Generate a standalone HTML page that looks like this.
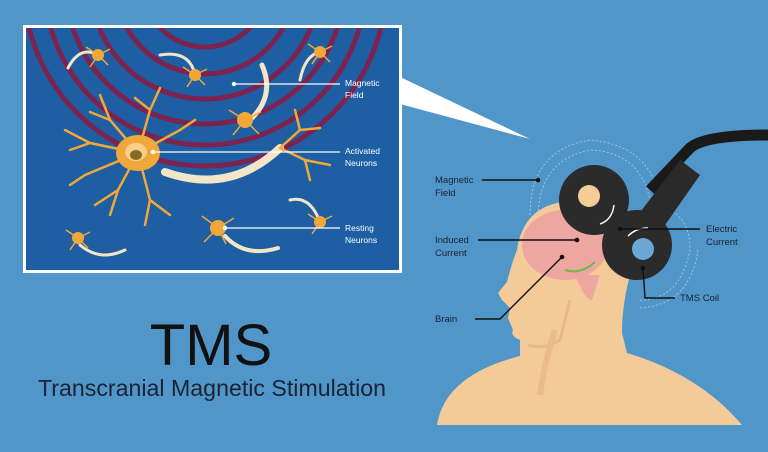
<!DOCTYPE html>
<html><head><meta charset="utf-8"><style>
html,body{margin:0;padding:0;background:#5196c9;}
svg{display:block;font-family:"Liberation Sans",sans-serif;}
</style></head><body>
<svg width="768" height="452" viewBox="0 0 768 452" xmlns="http://www.w3.org/2000/svg">
<rect width="768" height="452" fill="#5196c9"/>
<polygon points="398,76 530,139 400,104" fill="#ffffff"/>
<rect x="23" y="25" width="379" height="248" fill="#ffffff"/>
<rect x="26" y="28" width="373" height="242" fill="#1e5ea3"/>
<defs><clipPath id="ic"><rect x="26" y="28" width="373" height="242"/></clipPath></defs>
<g clip-path="url(#ic)">
<g fill="none" stroke="#7d2350" stroke-width="5">
<circle cx="205" cy="-15" r="62"/><circle cx="205" cy="-15" r="89"/><circle cx="205" cy="-15" r="114"/>
<circle cx="205" cy="-15" r="139"/><circle cx="205" cy="-15" r="160"/><circle cx="205" cy="-15" r="181"/>
</g>
<g fill="none" stroke="#f3e6c8" stroke-linecap="round">
<path d="M165,172 Q230,195 280,148" stroke-width="8"/>
<path d="M68,68 Q80,45 98,55" stroke-width="3"/>
<path d="M160,55 Q190,50 195,75" stroke-width="3"/>
<path d="M262,65 Q275,95 252,118" stroke-width="5"/>
<path d="M300,80 Q305,55 320,52" stroke-width="3"/>
<path d="M290,200 Q310,195 320,222" stroke-width="3"/>
<path d="M80,245 Q100,262 125,250" stroke-width="3"/>
<path d="M225,236 Q245,258 278,248" stroke-width="4"/>
</g>
<g stroke="#f0a83a" stroke-width="2.5" fill="none" stroke-linecap="round">
<path d="M138,153 L90,143 L65,130 M90,143 L70,150 M138,153 L110,120 L100,95 M110,120 L90,112 M138,153 L150,110 L160,88 M150,110 L135,98 M138,153 L180,130 L195,120 M138,153 L118,190 L95,205 M118,190 L110,215 M138,153 L150,200 L145,225 M150,200 L170,215 M138,153 L85,175 L70,185"/>
<path d="M280,148 L300,130 L295,110 M300,130 L320,128 M280,148 L305,160 L330,165 M305,160 L310,180"/>
</g>
<ellipse cx="138" cy="153" rx="22" ry="18" fill="#f0a83a"/>
<ellipse cx="136" cy="152" rx="11" ry="9" fill="#f6d088"/>
<ellipse cx="136" cy="155" rx="6" ry="5" fill="#8a6a20"/>
<g fill="#f0a83a">
<circle cx="98" cy="55" r="6"/><circle cx="195" cy="75" r="6"/><circle cx="245" cy="120" r="8"/>
<circle cx="320" cy="52" r="6"/><circle cx="218" cy="228" r="8"/><circle cx="320" cy="222" r="6"/><circle cx="78" cy="238" r="6"/>
</g>
<g stroke="#f0a83a" stroke-width="1.5" fill="none">
<path d="M98,55 l-12,-8 M98,55 l12,-6 M98,55 l-8,12 M98,55 l10,10"/>
<path d="M195,75 l-12,-8 M195,75 l12,-6 M195,75 l-8,12 M195,75 l10,10"/>
<path d="M245,120 l-16,-10 M245,120 l16,-8 M245,120 l-12,15 M245,120 l14,14"/>
<path d="M320,52 l-12,-8 M320,52 l12,-6 M320,52 l-8,12 M320,52 l10,10"/>
<path d="M218,228 l-16,-12 M218,228 l16,-10 M218,228 l-14,14 M218,228 l8,16"/>
<path d="M320,222 l-12,-8 M320,222 l12,-6 M320,222 l-8,12"/>
<path d="M78,238 l-12,-8 M78,238 l12,-6 M78,238 l-8,12 M78,238 l10,10"/>
</g>
<g stroke="#ffffff" stroke-width="1.3"><line x1="234" y1="84" x2="340" y2="84"/><line x1="153" y1="152" x2="340" y2="152"/><line x1="225" y1="228" x2="340" y2="228"/></g>
<g fill="#fff"><circle cx="234" cy="84" r="2.2"/><circle cx="153" cy="152" r="2.2"/><circle cx="225" cy="228" r="2.2"/></g>
</g>
<g fill="#ffffff" font-size="8.5">
<text x="345" y="86">Magnetic</text><text x="345" y="98">Field</text>
<text x="345" y="154">Activated</text><text x="345" y="166">Neurons</text>
<text x="345" y="231">Resting</text><text x="345" y="243">Neurons</text>
</g>
<text x="211" y="365" font-size="58" text-anchor="middle" fill="#111">TMS</text>
<text x="38" y="396" font-size="23" fill="#1a2233" textLength="348" lengthAdjust="spacingAndGlyphs">Transcranial Magnetic Stimulation</text>
<!-- head -->
<path d="M437,425 Q445,375 520,356 L520,340 Q510,336 513,330 L508,318 L510,308 L502,300 L498,293 L507,282 Q512,262 517,250 Q522,215 550,205 Q590,192 620,215 Q640,240 630,275 Q622,305 622,333 L627,353 Q700,375 742,425 Z" fill="#f4ca98"/>
<path d="M528,345 Q545,350 560,340 L570,300" fill="none" stroke="#eab98a" stroke-width="3"/>
<path d="M540,395 Q545,360 555,330" fill="none" stroke="#ebbb8c" stroke-width="6"/>
<ellipse cx="565" cy="245" rx="43" ry="35" fill="#eda6a0"/>
<path d="M575,275 Q585,300 592,300 L600,275 Z" fill="#eda6a0"/>
<path d="M565,270 Q580,275 595,262" stroke="#6dbb45" stroke-width="2" fill="none"/>
<g fill="none" stroke="#a9cfe8" stroke-width="0.8" stroke-dasharray="2,2">
<path d="M538,215 Q540,160 590,150 Q640,152 650,200"/>
<path d="M530,215 Q530,150 590,140 Q650,145 660,200"/>
<path d="M640,300 Q680,300 690,250 Q690,220 670,210"/>
<path d="M640,308 Q690,305 698,250"/>
</g>
<path d="M650,190 L690,148 Q705,135 768,135" stroke="#1a1a1a" stroke-width="11" fill="none"/>
<path d="M638,215 L680,160 L700,175 L665,225 Z" fill="#2a2a2a"/>
<circle cx="594" cy="200" r="35" fill="#2b2b2b"/>
<circle cx="637" cy="245" r="35" fill="#2b2b2b"/>
<circle cx="589" cy="196" r="11" fill="#f4cc96"/>
<circle cx="643" cy="249" r="11" fill="#6aa7d6"/>
<g stroke="#ffffff" stroke-width="1.4" fill="none"><path d="M614,205 Q612,220 600,224"/><path d="M628,236 Q636,228 648,228"/></g>
<g stroke="#111" stroke-width="1.4" fill="none">
<line x1="482" y1="180" x2="538" y2="180"/>
<line x1="478" y1="240" x2="577" y2="240"/>
<polyline points="475,319 500,319 562,257"/>
<line x1="700" y1="229" x2="620" y2="229"/>
<polyline points="675,298 645,298 643,268"/>
</g>
<g fill="#111"><circle cx="538" cy="180" r="2.3"/><circle cx="577" cy="240" r="2.3"/><circle cx="562" cy="257" r="2.3"/><circle cx="620" cy="229" r="2.3"/><circle cx="643" cy="268" r="2.3"/></g>
<g fill="#1a2233" font-size="9.5">
<text x="435" y="183">Magnetic</text><text x="435" y="196">Field</text>
<text x="435" y="243">Induced</text><text x="435" y="256">Current</text>
<text x="435" y="322">Brain</text>
<text x="706" y="232">Electric</text><text x="706" y="245">Current</text>
<text x="680" y="301">TMS Coil</text>
</g>
</svg>
</body></html>
